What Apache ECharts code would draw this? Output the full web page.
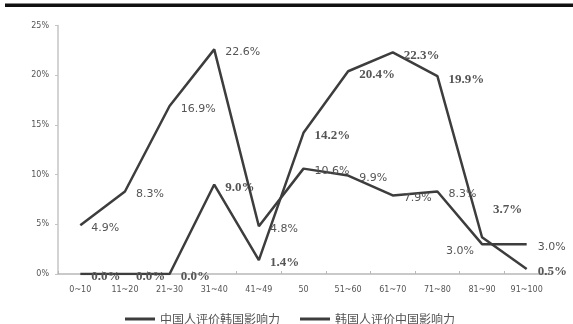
<!DOCTYPE html>
<html>
<head>
<meta charset="utf-8">
<script src="https://cdn.jsdelivr.net/npm/echarts@6/dist/echarts.min.js"></script>
<style>
  html, body { margin: 0; padding: 0; background: #fff; }
  #chart { width: 573px; height: 324px; }
</style>
</head>
<body>
<div id="chart"></div>
<script>
// Age bands on the category axis
const categories = ['0~10', '11~20', '21~30', '31~40', '41~49', '50', '51~60', '61~70', '71~80', '81~90', '91~100'];

// Series names (legend)
const seriesNames = ['中国人评价韩国影响力', '韩国人评价中国影响力'];

// Share of respondents per band, in percent
const chinaOnKorea = [4.9, 8.3, 16.9, 22.6, 4.8, 10.6, 9.9, 7.9, 8.3, 3.0, 3.0];
const koreaOnChina = [0.0, 0.0, 0.0, 9.0, 1.4, 14.2, 20.4, 22.3, 19.9, 3.7, 0.5];

// Y axis tick range (percent)
const yMin = 0, yMax = 25, yStep = 5;

// Per-point label placement tweaks (pixel offsets), kept apart from the values
const labelOffsetA = { 9: { position: 'left', offset: [3, 7] } };
const labelOffsetB = { 9: { position: 'right', offset: [0, -28] } };

const lineColor = '#3d3d3d';
const textColor = '#555';

function buildData(values, tweaks) {
  return values.map((v, i) => {
    const t = tweaks[i];
    const item = { value: v };
    if (t) item.label = { position: t.position, offset: t.offset };
    return item;
  });
}

const chart = echarts.init(document.getElementById('chart'), null, { renderer: 'canvas' });

chart.setOption({
  animation: false,
  backgroundColor: '#fff',
  graphic: [{
    type: 'rect',
    shape: { x: 5, y: 3.5, width: 568, height: 3.5 },
    style: { fill: '#111' }
  }],
  grid: { left: 58, right: 24, top: 25.5, bottom: 50, containLabel: false },
  legend: {
    left: 125,
    top: 313,
    padding: 0,
    itemWidth: 30,
    itemHeight: 3,
    itemGap: 20,
    icon: 'rect',
    textStyle: { fontSize: 12, color: textColor, fontFamily: 'Noto Sans CJK SC' },
    data: seriesNames
  },
  xAxis: {
    type: 'category',
    data: categories,
    boundaryGap: true,
    axisLine: { lineStyle: { color: '#b8b8b8', width: 1.5 } },
    axisTick: { show: true, inside: true, length: 3, lineStyle: { color: '#b8b8b8' } },
    axisLabel: { fontSize: 8, color: textColor, margin: 12, interval: 0, fontFamily: 'DejaVu Sans' },
    splitLine: { show: false }
  },
  yAxis: {
    type: 'value',
    min: yMin,
    max: yMax,
    interval: yStep,
    axisLine: { show: true, lineStyle: { color: '#c4c4c4', width: 1.5 } },
    axisTick: { show: true, length: 3, lineStyle: { color: '#c4c4c4' } },
    axisLabel: { fontSize: 8, color: textColor, margin: 9, formatter: v => v + '%', fontFamily: 'DejaVu Sans' },
    splitLine: { show: false }
  },
  series: [
    {
      name: seriesNames[0],
      type: 'line',
      data: buildData(chinaOnKorea, labelOffsetA),
      showSymbol: true,
      symbol: 'circle',
      symbolSize: 0.1,
      lineStyle: { color: lineColor, width: 2.5 },
      itemStyle: { color: lineColor },
      z: 3,
      label: {
        show: true,
        position: 'right',
        distance: 11,
        offset: [0, 3],
        fontSize: 11,
        color: textColor,
        fontFamily: 'DejaVu Sans',
        formatter: p => p.value.toFixed(1) + '%'
      }
    },
    {
      name: seriesNames[1],
      type: 'line',
      data: buildData(koreaOnChina, labelOffsetB),
      showSymbol: true,
      symbol: 'circle',
      symbolSize: 0.1,
      lineStyle: { color: lineColor, width: 2.5 },
      itemStyle: { color: lineColor },
      z: 2,
      label: {
        show: true,
        position: 'right',
        distance: 11,
        offset: [0, 3],
        fontSize: 13,
        fontWeight: 'bold',
        color: textColor,
        fontFamily: 'Liberation Serif',
        formatter: p => p.value.toFixed(1) + '%'
      }
    }
  ]
});
</script>
</body>
</html>
